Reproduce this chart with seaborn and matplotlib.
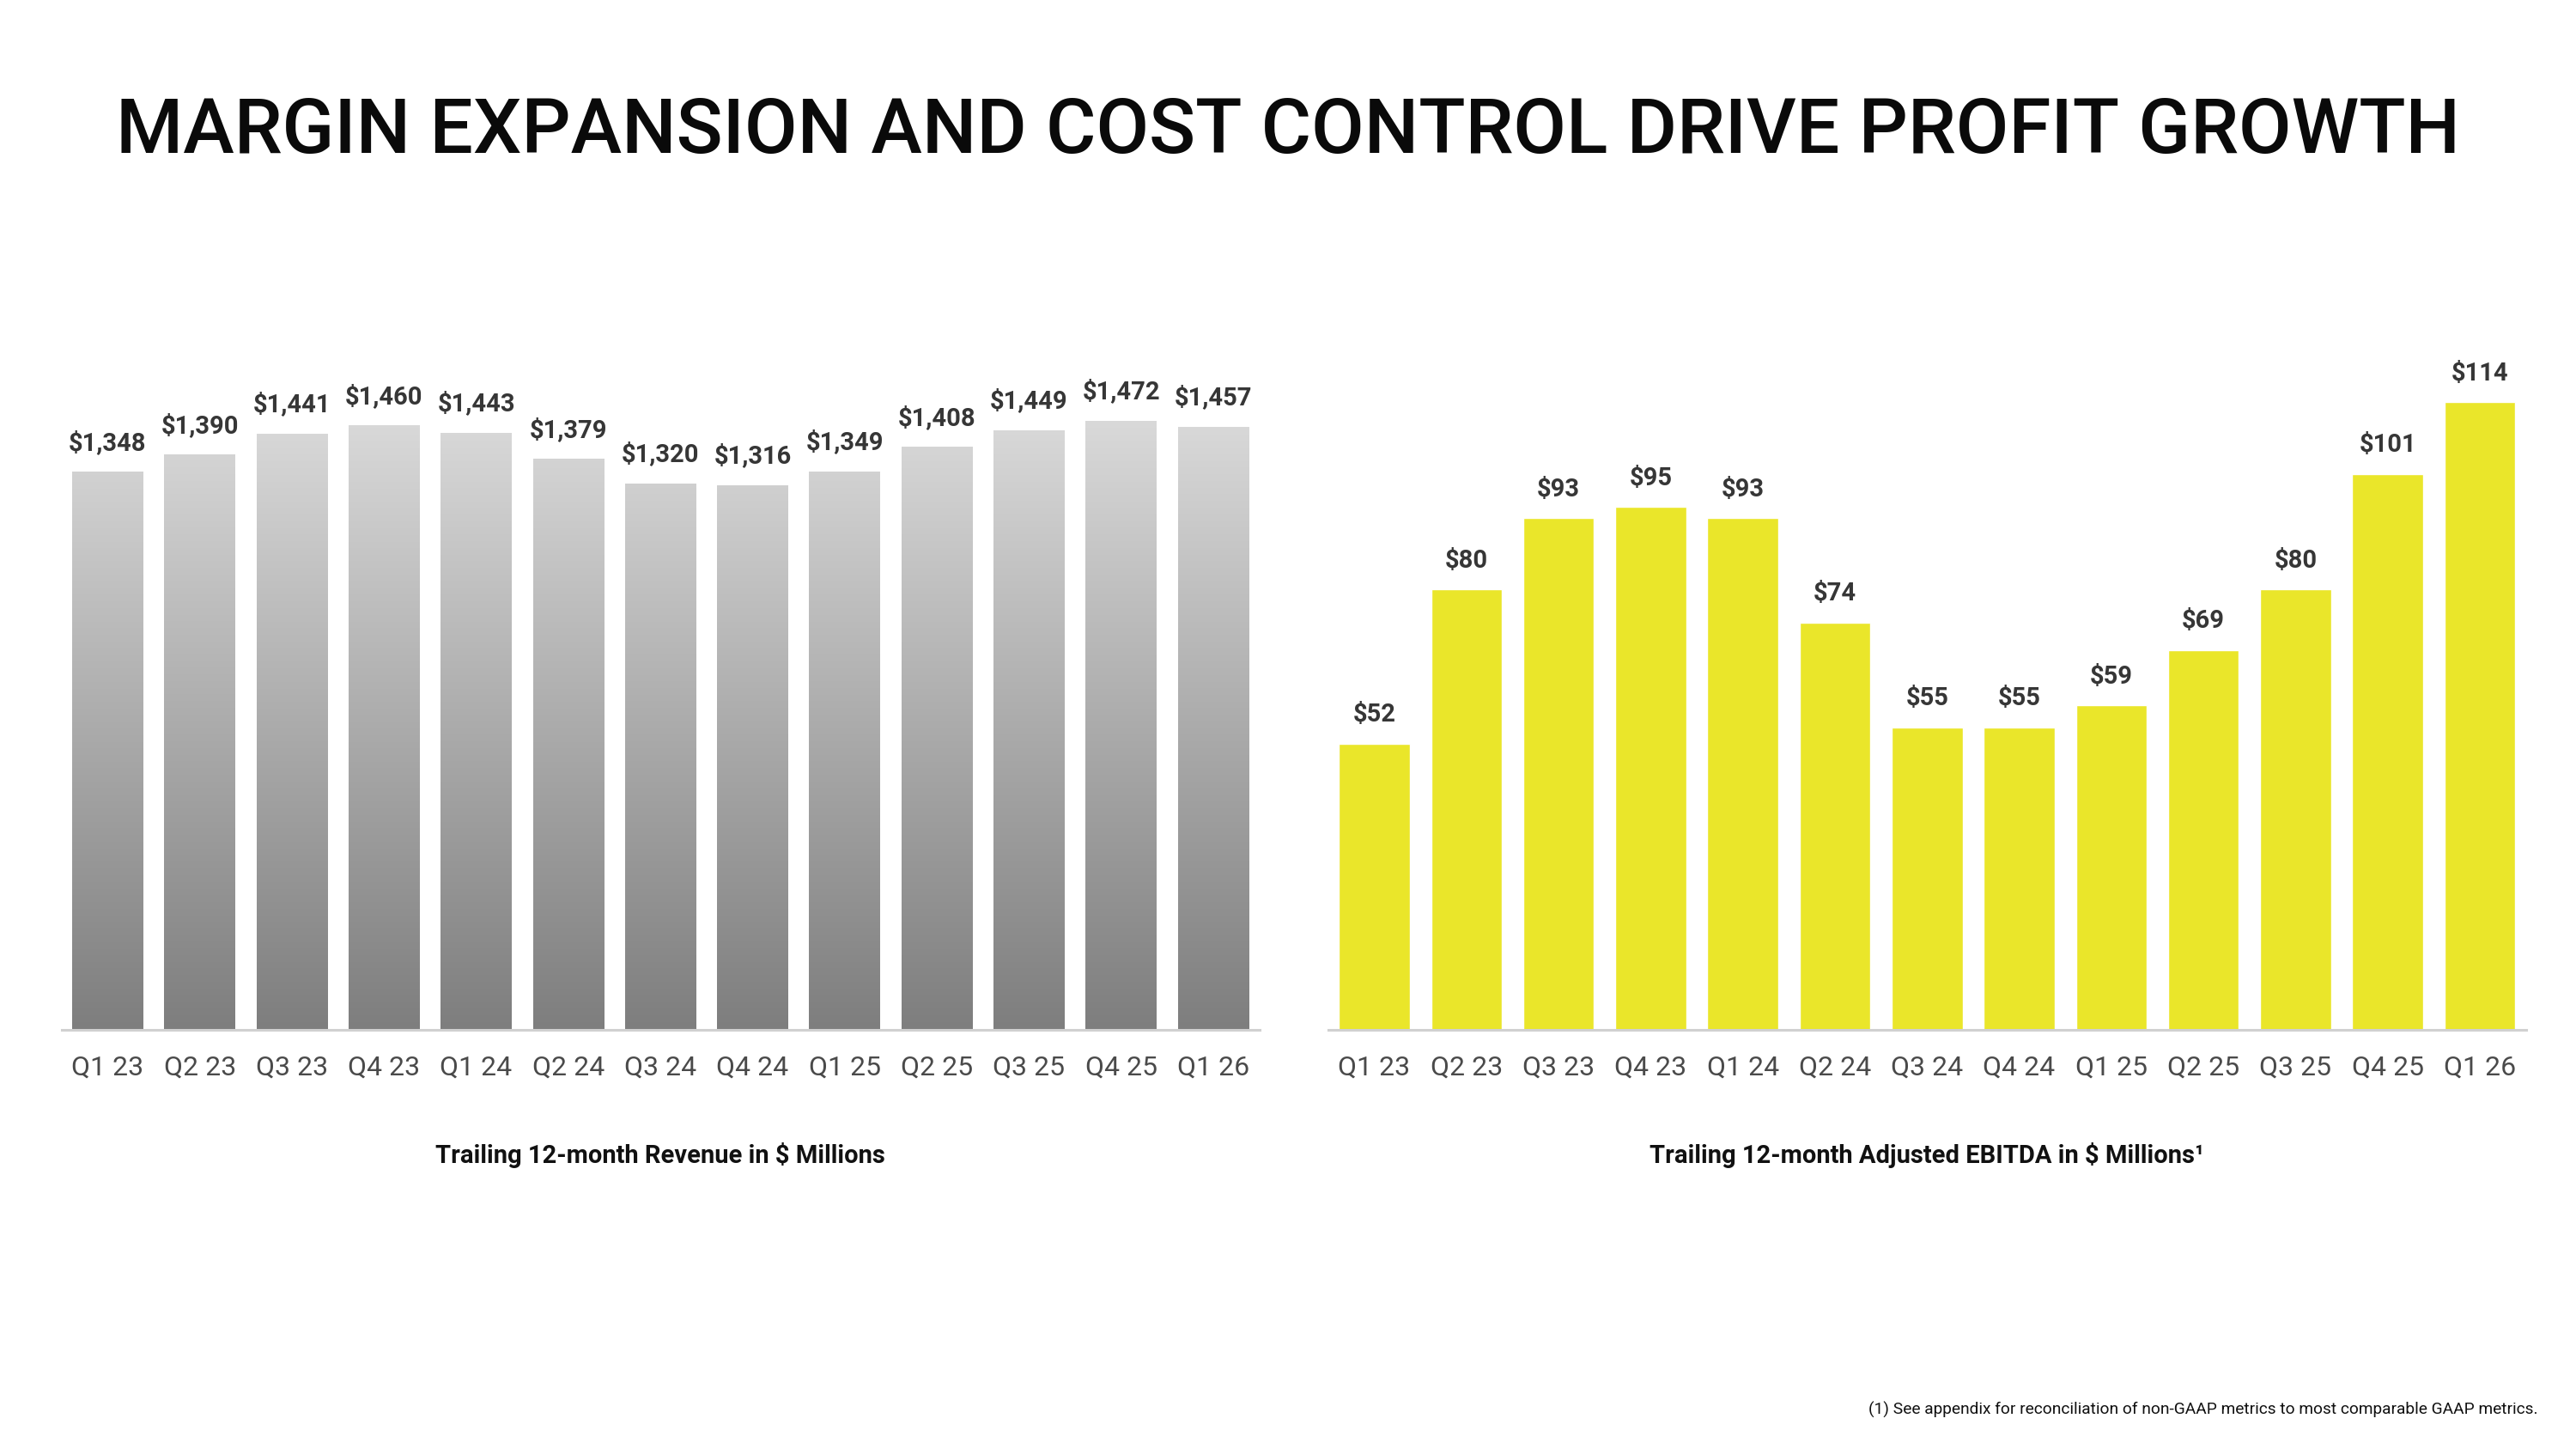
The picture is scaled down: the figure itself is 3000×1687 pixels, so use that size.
import numpy as np
import pandas as pd
import matplotlib
matplotlib.use("Agg")
import matplotlib.pyplot as plt
import seaborn as sns
from matplotlib.colors import LinearSegmentedColormap

# ---------------- data ----------------
quarters = ["Q1 23", "Q2 23", "Q3 23", "Q4 23", "Q1 24", "Q2 24", "Q3 24",
            "Q4 24", "Q1 25", "Q2 25", "Q3 25", "Q4 25", "Q1 26"]
revenue = [1348, 1390, 1441, 1460, 1443, 1379, 1320, 1316, 1349, 1408, 1449, 1472, 1457]
ebitda = [52, 80, 93, 95, 93, 74, 55, 55, 59, 69, 80, 101, 114]

title_text = "MARGIN EXPANSION AND COST CONTROL DRIVE PROFIT GROWTH"
rev_caption = "Trailing 12-month Revenue in $ Millions"
ebitda_caption = "Trailing 12-month Adjusted EBITDA in $ Millions\u00b9"
footnote_text = "(1) See appendix for reconciliation of non-GAAP metrics to most comparable GAAP metrics."

# ---------------- style ----------------
sns.set_theme(style="white")
plt.rcParams["font.family"] = ["Roboto", "DejaVu Sans"]

YELLOW = "#EAE62A"
LABEL_COLOR = "#363636"
TICK_COLOR = "#4a4a4a"

fig = plt.figure(figsize=(30, 16.87), dpi=100)
fig.patch.set_facecolor("white")

# layout measured on a 1568 x 882 grid
W, H = 1568.0, 882.0
def rect(l, t, w, h):
    return [l / W, 1 - (t + h) / H, w / W, h / H]

ax1 = fig.add_axes(rect(37.5, 200, 729, 427))
ax2 = fig.add_axes(rect(808.5, 200, 729, 427))

df_rev = pd.DataFrame({"quarter": quarters, "value": revenue})
df_eb = pd.DataFrame({"quarter": quarters, "value": ebitda})

sns.barplot(data=df_rev, x="quarter", y="value", ax=ax1, color="#bbbbbb",
            width=0.77, saturation=1, errorbar=None)
sns.barplot(data=df_eb, x="quarter", y="value", ax=ax2, color=YELLOW,
            width=0.77, saturation=1, errorbar=None)

# gradient fill on the revenue bars
gray_cmap = LinearSegmentedColormap.from_list("g", ["#7e7e7e", "#d9d9d9"])
grad = np.linspace(0, 1, 256).reshape(-1, 1)
top = max(revenue)
for p in list(ax1.patches):
    x0 = p.get_x()
    w = p.get_width()
    im = ax1.imshow(grad, extent=[x0, x0 + w, 0, top], origin="lower",
                    cmap=gray_cmap, aspect="auto", zorder=p.get_zorder() + 0.1)
    im.set_clip_path(p)

for ax, vals, ymax, fmt in [(ax1, revenue, 1694, "${:,}"), (ax2, ebitda, 127.4, "${:,}")]:
    ax.set_xlim(-0.5, len(quarters) - 0.5)
    ax.set_ylim(0, ymax)
    ax.set_facecolor("none")
    ax.set_xlabel("")
    ax.set_ylabel("")
    ax.set_yticks([])
    for s in ["top", "right", "left"]:
        ax.spines[s].set_visible(False)
    ax.spines["bottom"].set_color("#d0d0d0")
    ax.spines["bottom"].set_linewidth(2.2)
    ax.tick_params(axis="x", length=0, pad=21, labelsize=23, labelcolor=TICK_COLOR)
    for t in ax.get_xticklabels():
        t.set_fontweight("normal")
        t.set_color(TICK_COLOR)
    ax.bar_label(ax.containers[0], labels=[fmt.format(v) for v in vals],
                 padding=14, fontsize=21, fontweight="bold", color=LABEL_COLOR)

fig.text(0.5, 1 - 80 / H, title_text, ha="center", va="center",
         fontsize=64.4, fontweight="medium", color="#0a0a0a")

c1 = (37.5 + 364.5) / W
c2 = (808.5 + 364.5) / W
fig.text(c1, 1 - 703 / H, rev_caption, ha="center", va="center",
         fontsize=21, fontweight="bold", color="#111111")
fig.text(c2, 1 - 703 / H, ebitda_caption, ha="center", va="center",
         fontsize=21, fontweight="bold", color="#111111")
fig.text(1545 / W, 1 - 858 / H, footnote_text, ha="right", va="center",
         fontsize=13.8, color="#111111")

fig.savefig("out.png", dpi=100, facecolor="white")
